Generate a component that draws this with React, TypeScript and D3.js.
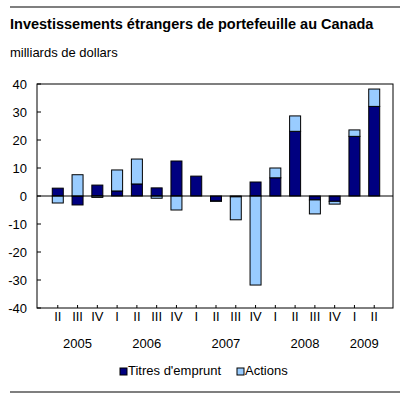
import React from "react";
import * as d3 from "d3";

const quarters = ["II", "III", "IV", "I", "II", "III", "IV", "I", "II", "III", "IV", "I", "II", "III", "IV", "I", "II"];
const years = ["2005", "2005", "2005", "2006", "2006", "2006", "2006", "2007", "2007", "2007", "2007", "2008", "2008", "2008", "2008", "2009", "2009"];
const titres = [2.8, -3.2, 3.9, 1.8, 4.3, 2.9, 12.5, 7.1, -1.8, -0.3, 5.0, 6.5, 23.1, -1.4, -1.9, 21.3, 32.0];
const actions = [-2.5, 7.6, -0.5, 7.5, 8.9, -0.8, -5.0, 0.0, -0.1, -8.2, -31.8, 3.5, 5.5, -5.0, -1.0, 2.3, 6.2];
const yTicks = [40, 30, 20, 10, 0, -10, -20, -30, -40];
const seriesNames = ["Titres d'emprunt", "Actions"];
const colors = ["#000080", "#99CCFF"];

const W = 407;
const H = 405;
const left = 37;
const right = 393;
const top = 84;
const bottom = 308;
const font = "Arial, 'Liberation Sans', sans-serif";

export default function App() {
  const idx = quarters.map((_, i) => i);
  const x = d3.scalePoint<number>().domain(idx).range([left + 1, right + 1]).padding(1);
  const y = d3.scaleLinear().domain([-40, 40]).range([bottom, top]);
  const rows = idx.map((i) => ({ t: titres[i], a: actions[i] }));
  const stack = d3.stack<any>().keys(["t", "a"]).offset(d3.stackOffsetDiverging);
  const series = stack(rows);
  const bw = 11;

  const yearGroups: { year: string; first: number; last: number }[] = [];
  years.forEach((yr, i) => {
    const g = yearGroups.find((d) => d.year === yr);
    if (g) g.last = i;
    else yearGroups.push({ year: yr, first: i, last: i });
  });

  return (
    <svg width={W} height={H} style={{ position: "absolute", left: 0, top: 0, background: "#fff" }} fontFamily={font}>
      <line x1={10} x2={400} y1={7} y2={7} stroke="#000" strokeWidth={1.2} />
      <text x={10} y={29} fontSize={14.5} fontWeight="bold">Investissements étrangers de portefeuille au Canada</text>
      <text x={10} y={57} fontSize={13}>milliards de dollars</text>

      {series.map((s, si) =>
        s.map((d, i) => {
          const y0 = y(d[0]);
          const y1 = y(d[1]);
          const h = Math.abs(y1 - y0);
          if (h < 0.01) return null;
          return (
            <rect
              key={si + "-" + i}
              x={(x(i) as number) - bw / 2}
              y={Math.min(y0, y1)}
              width={bw}
              height={h}
              fill={colors[si]}
              stroke="#000"
              strokeWidth={1}
            />
          );
        })
      )}

      <line x1={left} x2={right} y1={y(0)} y2={y(0)} stroke="#000" strokeWidth={1} />
      <rect x={left} y={top} width={right - left} height={bottom - top} fill="none" stroke="#000" strokeWidth={1} />

      {yTicks.map((t) => (
        <g key={t}>
          <line x1={left} x2={left + 4} y1={y(t)} y2={y(t)} stroke="#000" />
          <text x={27} y={y(t)} dy="0.35em" textAnchor="end" fontSize={13}>{t}</text>
        </g>
      ))}

      {idx.map((i) => (
        <g key={i}>
          <line x1={x(i)} x2={x(i)} y1={bottom} y2={bottom - 3} stroke="#000" />
          <text x={x(i)} y={321} textAnchor="middle" fontSize={13}>{quarters[i]}</text>
        </g>
      ))}

      {yearGroups.map((g) => (
        <text key={g.year} x={((x(g.first) as number) + (x(g.last) as number)) / 2} y={348} textAnchor="middle" fontSize={13}>
          {g.year}
        </text>
      ))}

      {seriesNames.map((n, i) => {
        const lx = i === 0 ? 120 : 237;
        return (
          <g key={n}>
            <rect x={lx} y={368} width={7} height={7} fill={colors[i]} stroke="#000" strokeWidth={1} />
            <text x={lx + 8} y={375} fontSize={13}>{n}</text>
          </g>
        );
      })}

      <line x1={10} x2={400} y1={392} y2={392} stroke="#000" strokeWidth={1.2} />
    </svg>
  );
}
